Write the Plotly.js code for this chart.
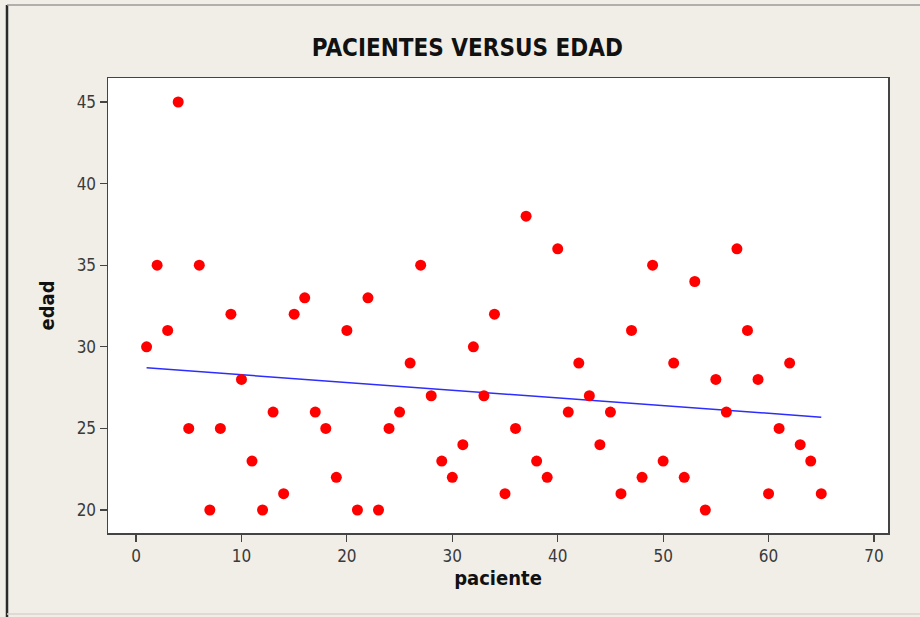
<!DOCTYPE html>
<html>
<head>
<meta charset="utf-8">
<script src="https://cdn.plot.ly/plotly-3.0.1.min.js"></script>
<style>
html,body{margin:0;padding:0;background:#f1eee7;}
#chart{width:920px;height:617px;}
</style>
</head>
<body>
<div id="chart"></div>
<script>
// Patient number (x) and age (y)
const paciente = [];
for (let i = 1; i <= 65; i++) paciente.push(i);
const edad = [
  30, 35, 31, 45, 25, 35, 20, 25, 32, 28,
  23, 20, 26, 21, 32, 33, 26, 25, 22, 31,
  20, 33, 20, 25, 26, 29, 35, 27, 23, 22,
  24, 30, 27, 32, 21, 25, 38, 23, 22, 36,
  26, 29, 27, 24, 26, 21, 31, 22, 35, 23,
  29, 22, 34, 20, 28, 26, 36, 31, 28, 21,
  25, 29, 24, 23, 21
];
// Fitted line end points
const fitX = [1, 65];
const fitY = [28.71, 25.69];

const xTicks = [0, 10, 20, 30, 40, 50, 60, 70];
const yTicks = [20, 25, 30, 35, 40, 45];

const FONT = '"DejaVu Sans Condensed", "DejaVu Sans", sans-serif';

const traces = [
  {
    x: fitX, y: fitY, type: 'scatter', mode: 'lines',
    line: {color: 'rgb(45,45,255)', width: 1.5},
    hoverinfo: 'skip', showlegend: false
  },
  {
    x: paciente, y: edad, type: 'scatter', mode: 'markers',
    marker: {color: '#ff0000', size: 11, line: {width: 0}},
    showlegend: false
  }
];

const layout = {
  width: 920, height: 617,
  paper_bgcolor: '#f1eee7',
  plot_bgcolor: '#ffffff',
  margin: {l: 108, r: 32, t: 78, b: 84},
  font: {family: FONT, color: '#333333', size: 17},
  title: {
    text: '<b>PACIENTES VERSUS EDAD</b>',
    font: {family: FONT, size: 24, color: '#111111'},
    xref: 'container', yref: 'container',
    x: 0.508, xanchor: 'center',
    y: 0.923, yanchor: 'middle'
  },
  xaxis: {
    range: [-2.66, 71.33],
    tickvals: xTicks,
    ticktext: xTicks.map(String),
    ticks: 'outside', ticklen: 7, tickwidth: 1.2, tickcolor: '#444',
    showline: true, mirror: true, linecolor: '#444', linewidth: 1.5,
    showgrid: false, zeroline: false,
    tickfont: {family: FONT, size: 17, color: '#3a3a3a'},
    title: {text: '<b>paciente</b>', font: {family: FONT, size: 20, color: '#111'}, standoff: 6}
  },
  yaxis: {
    range: [18.59, 46.47],
    tickvals: yTicks,
    ticktext: yTicks.map(String),
    ticks: 'outside', ticklen: 7, tickwidth: 1.2, tickcolor: '#444',
    showline: true, mirror: true, linecolor: '#444', linewidth: 1.5,
    showgrid: false, zeroline: false,
    tickfont: {family: FONT, size: 17, color: '#3a3a3a'},
    title: {text: '<b>edad</b>', font: {family: FONT, size: 20, color: '#111'}, standoff: 16}
  },
  shapes: [
    // outer frame lines (left dark, top gray, bottom light)
    {type: 'line', xref: 'paper', yref: 'paper',
     x0: (7 - 108) / 780, x1: (7 - 108) / 780, y0: (533 - 5) / 455, y1: (533 - 617) / 455,
     line: {color: '#2a2a2a', width: 2.5}},
    {type: 'line', xref: 'paper', yref: 'paper',
     x0: (7 - 108) / 780, x1: (920 - 108) / 780, y0: (533 - 5) / 455, y1: (533 - 5) / 455,
     line: {color: '#9a9a9a', width: 1.5}},
    {type: 'line', xref: 'paper', yref: 'paper',
     x0: (7 - 108) / 780, x1: (920 - 108) / 780, y0: (533 - 614) / 455, y1: (533 - 614) / 455,
     line: {color: '#d8d4cc', width: 1.5}}
  ]
};

Plotly.newPlot('chart', traces, layout, {displayModeBar: false, staticPlot: true});
</script>
</body>
</html>
